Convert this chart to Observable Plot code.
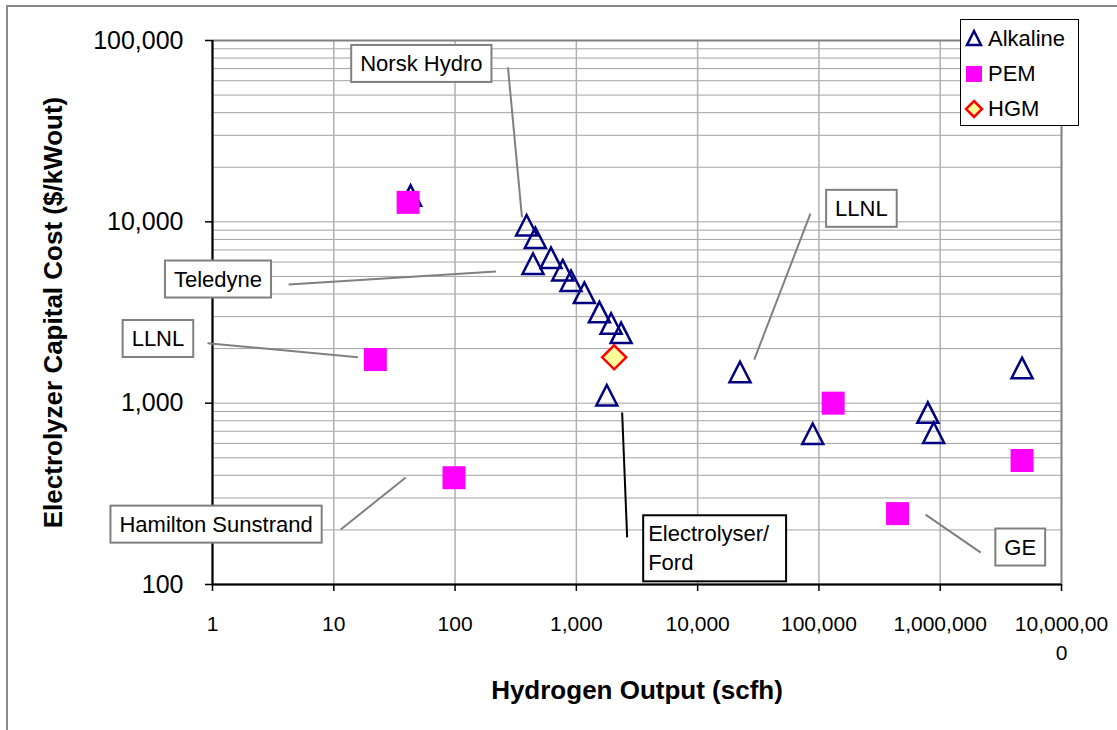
<!DOCTYPE html>
<html>
<head>
<meta charset="utf-8">
<script src="https://cdn.jsdelivr.net/npm/d3@7"></script>
<script src="https://cdn.jsdelivr.net/npm/@observablehq/plot@0.6"></script>
<style>
  body { margin: 0; background: #fff; font-family: "Liberation Sans", Arial, sans-serif; }
  #wrap { position: relative; width: 1117px; height: 730px; overflow: hidden; background: #fff; }
  #border { position: absolute; left: 6px; top: 5px; width: 1400px; height: 900px;
            border-left: 2px solid #8a8a8a; border-top: 2px solid #8a8a8a; pointer-events: none; z-index: 5; }
  #legend { position: absolute; left: 960px; top: 19px; width: 119px; height: 107px;
            border: 1px solid #000; background: #fff; box-sizing: border-box; z-index: 4; }
  #legend .row { position: absolute; left: 0; height: 30px; display: flex; align-items: center; }
  #legend .row svg { width: 26px; height: 26px; }
  #legend .row span { font-size: 22px; color: #000; margin-left: 1px; }
</style>
</head>
<body>
<div id="wrap"><div id="border"></div><div id="legend"></div></div>
<script>
// ---- Data ----
const alkalineOutput = [43, 389, 459, 439, 618, 772, 904, 1164, 1549, 1934, 2339, 1783, 22350, 88900, 791000, 883000, 4730000];
const alkalineCost   = [14000, 9600, 8200, 5900, 6350, 5430, 4750, 4080, 3190, 2760, 2450, 1110, 1490, 680, 890, 690, 1570];
const pemOutput = [41, 22, 98, 131000, 445000, 4730000];
const pemCost   = [12800, 1740, 388, 1000, 246, 483];
const hgmOutput = [2050];
const hgmCost   = [1790];

const xTicks = [1, 10, 100, 1000, 10000, 100000, 1000000, 10000000];
const xTickLabels = ["1", "10", "100", "1,000", "10,000", "100,000", "1,000,000", "10,000,00\n0"];
const yTicks = [100, 1000, 10000, 100000];
const yTickLabels = ["100", "1,000", "10,000", "100,000"];
const yGridValues = [100,200,300,400,500,600,700,800,900,1000,2000,3000,4000,5000,6000,7000,8000,9000,
                     10000,20000,30000,40000,50000,60000,70000,80000,90000,100000];
const xGridValues = [10, 100, 1000, 10000, 100000, 1000000];

const seriesNames = ["Alkaline", "PEM", "HGM"];
const xTitle = "Hydrogen Output (scfh)";
const yTitle = "Electrolyzer Capital Cost ($/kWout)";

// annotation callouts (label centre in data space)
const annotLabels = ["Norsk Hydro", "Teledyne", "LLNL", "Hamilton Sunstrand", "LLNL", "GE"];
const annotX = [52.7, 1.11, 0.355, 1.07, 224000, 4570000];
const annotY = [74300, 4810, 2260, 214, 11800, 160];
const fordLabel = "Electrolyser/\nFord";
const fordX = [3910];
const fordY = [162];
// leader lines
const leaderX1 = [273, 4.24, 0.909, 11.4, 85100, 757000];
const leaderY1 = [71100, 4510, 2140, 201, 11100, 243];
const leaderX2 = [356, 217, 15.8, 39.2, 29300, 2160000];
const leaderY2 = [10600, 5330, 1790, 389, 1740, 150];
const fordLeaderX1 = [2385], fordLeaderY1 = [889], fordLeaderX2 = [2623], fordLeaderY2 = [182];

// ---- tables ----
const alkaline = alkalineOutput.map((x, i) => ({x, y: alkalineCost[i]}));
const pem = pemOutput.map((x, i) => ({x, y: pemCost[i]}));
const hgm = hgmOutput.map((x, i) => ({x, y: hgmCost[i]}));
const annots = annotLabels.map((t, i) => ({t, x: annotX[i], y: annotY[i]}));
const leaders = leaderX1.map((x1, i) => ({x1, y1: leaderY1[i], x2: leaderX2[i], y2: leaderY2[i]}));
const fordLeader = fordLeaderX1.map((x1, i) => ({x1, y1: fordLeaderY1[i], x2: fordLeaderX2[i], y2: fordLeaderY2[i]}));
const ford = fordX.map((x, i) => ({t: fordLabel, x, y: fordY[i]}));

// ---- symbols ----
const triangleSym = { draw(ctx) { ctx.moveTo(0, -10); ctx.lineTo(10.5, 10.5); ctx.lineTo(-10.5, 10.5); ctx.closePath(); } };
const squareSym = { draw(ctx) { ctx.rect(-11.5, -11.5, 23, 23); } };
const diamondSym = { draw(ctx) { ctx.moveTo(0, -12); ctx.lineTo(12, 0); ctx.lineTo(0, 12); ctx.lineTo(-12, 0); ctx.closePath(); } };

const chart = Plot.plot({
  width: 1117,
  height: 730,
  marginLeft: 212,
  marginRight: 56,
  marginTop: 40,
  marginBottom: 146,
  style: { fontFamily: "Liberation Sans, Arial, sans-serif", background: "transparent", overflow: "visible" },
  x: { type: "log", domain: [1, 1e7] },
  y: { type: "log", domain: [100, 1e5] },
  marks: [
    Plot.ruleY(yGridValues, { stroke: "#a2a2a2", strokeWidth: 1 }),
    Plot.ruleX(xGridValues, { stroke: "#b0b0b0", strokeWidth: 1.5 }),
    Plot.frame({ stroke: "#808080", strokeWidth: 2 }),
    Plot.ruleX([xTicks[0]], { stroke: "#000", strokeWidth: 2 }),
    Plot.ruleY([yTicks[0]], { stroke: "#000", strokeWidth: 2 }),
    Plot.axisY(yTicks, { tickSize: 7, tickPadding: 22, strokeWidth: 1.5, fontSize: 25, fill: "#000",
      tickFormat: d => yTickLabels[yTicks.indexOf(d)], label: null }),
    Plot.axisX(xTicks, { tickSize: 7, tickPadding: 19, strokeWidth: 1.5, fontSize: 21, fill: "#000", lineHeight: 1.38,
      tickFormat: d => xTickLabels[xTicks.indexOf(d)], label: null }),
    Plot.text([xTitle], { frameAnchor: "bottom", dy: 106, textAnchor: "middle", lineAnchor: "middle",
      fontSize: 26, fontWeight: "bold", fill: "#000" }),
    Plot.text([yTitle], { frameAnchor: "left", dx: -159, rotate: -90, textAnchor: "middle", lineAnchor: "middle",
      fontSize: 26, fontWeight: "bold", fill: "#000" }),
    Plot.link(leaders, { x1: "x1", y1: "y1", x2: "x2", y2: "y2", stroke: "#808080", strokeWidth: 2 }),
    Plot.link(fordLeader, { x1: "x1", y1: "y1", x2: "x2", y2: "y2", stroke: "#000", strokeWidth: 2 }),
    Plot.text(annots, { x: "x", y: "y", text: "t", fontSize: 22, fill: "#000", textAnchor: "middle",
      lineAnchor: "middle", ariaDescription: "annot" }),
    Plot.text(ford, { x: "x", y: "y", text: "t", fontSize: 22, fill: "#000", textAnchor: "start",
      lineAnchor: "middle", lineHeight: 1.32, ariaDescription: "fordannot" }),
    Plot.dot(alkaline, { x: "x", y: "y", symbol: triangleSym, stroke: "#000080", strokeWidth: 2.5, fill: "none",
      strokeLinejoin: "miter" }),
    Plot.dot(pem, { x: "x", y: "y", symbol: squareSym, fill: "#ff00ff", stroke: "none" }),
    Plot.dot(hgm, { x: "x", y: "y", symbol: diamondSym, fill: "#ffff99", stroke: "#ff0000", strokeWidth: 2.5,
      strokeLinejoin: "miter" })
  ]
});
chart.style.position = "absolute";
chart.style.left = "0px";
chart.style.top = "0px";
document.getElementById("wrap").appendChild(chart);

// boxes behind callout texts (matched by their text content)
function addBoxes(labels, stroke, padL, padR, padT, padB) {
  const wanted = new Set(labels.map(s => s.replace(/\n/g, "")));
  chart.querySelectorAll("text").forEach(t => {
    if (!wanted.has(t.textContent)) return;
    const b = t.getBBox();
    const r = document.createElementNS("http://www.w3.org/2000/svg", "rect");
    r.setAttribute("x", b.x - padL);
    r.setAttribute("y", b.y - padT);
    r.setAttribute("width", b.width + padL + padR);
    r.setAttribute("height", b.height + padT + padB);
    r.setAttribute("fill", "#fff");
    r.setAttribute("stroke", stroke);
    r.setAttribute("stroke-width", 2);
    const tr = t.getAttribute("transform");
    if (tr) r.setAttribute("transform", tr);
    t.parentNode.insertBefore(r, t);
  });
}
addBoxes(annotLabels, "#808080", 9, 9, 6, 6);
addBoxes([fordLabel], "#000", 5, 16, 6, 6);

// legend
const legendColors = { Alkaline: "#000080", PEM: "#ff00ff", HGM: "#ff0000" };
const legend = document.getElementById("legend");
seriesNames.forEach((name, i) => {
  const row = document.createElement("div");
  row.className = "row";
  row.style.top = (4 + i * 35) + "px";
  let icon;
  if (name === "Alkaline") icon = `<path d="M13,5 L20,19 L6,19 Z" fill="none" stroke="${legendColors[name]}" stroke-width="2.5"/>`;
  else if (name === "PEM") icon = `<rect x="5" y="5" width="16" height="16" fill="${legendColors[name]}"/>`;
  else icon = `<path d="M13,5 L21,13 L13,21 L5,13 Z" fill="#ffff99" stroke="${legendColors[name]}" stroke-width="2.5"/>`;
  row.innerHTML = `<svg viewBox="0 0 26 26">${icon}</svg><span>${name}</span>`;
  legend.appendChild(row);
});
</script>
</body>
</html>
